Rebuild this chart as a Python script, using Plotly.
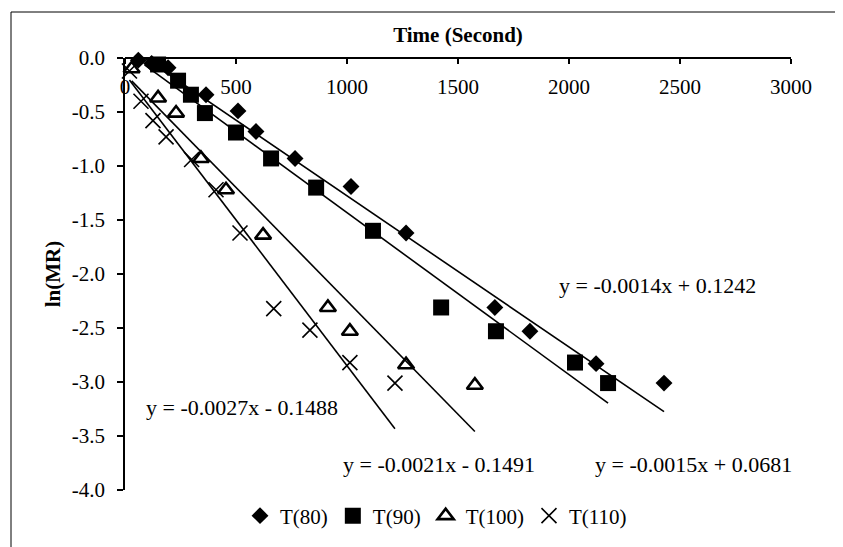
import plotly.graph_objects as go

# ---------------- data ----------------
t80_x = [60, 120, 194, 365, 509, 590, 766, 1018, 1266, 1666, 1824, 2122, 2428]
t80_y = [-0.02, -0.05, -0.09, -0.34, -0.49, -0.68, -0.93, -1.19, -1.62, -2.31, -2.53, -2.83, -3.01]

t90_x = [88, 149, 239, 297, 360, 500, 658, 861, 1117, 1424, 1671, 2027, 2176]
t90_y = [0.03, -0.06, -0.21, -0.34, -0.51, -0.69, -0.93, -1.20, -1.60, -2.31, -2.53, -2.82, -3.01]

t100_x = [30, 149, 230, 342, 455, 622, 914, 1013, 1266, 1576]
t100_y = [-0.10, -0.37, -0.51, -0.93, -1.22, -1.64, -2.31, -2.53, -2.84, -3.03]

t110_x = [20, 72, 126, 185, 300, 410, 518, 670, 833, 1013, 1216]
t110_y = [-0.12, -0.40, -0.58, -0.73, -0.94, -1.22, -1.62, -2.32, -2.52, -2.82, -3.01]

series_names = ["T(80)", "T(90)", "T(100)", "T(110)"]
slopes = [-0.0014, -0.0015, -0.0021, -0.0027]
intercepts = [0.1242, 0.0681, -0.1491, -0.1488]
eq_text = ["y = -0.0014x + 0.1242", "y = -0.0015x + 0.0681",
           "y = -0.0021x - 0.1491", "y = -0.0027x - 0.1488"]
eq_x = [2400, 2560, 1415, 525]
eq_y = [-2.11, -3.76, -3.76, -3.24]

x_ticks = [0, 500, 1000, 1500, 2000, 2500, 3000]
y_ticks = [0.0, -0.5, -1.0, -1.5, -2.0, -2.5, -3.0, -3.5, -4.0]
y_ticktext = ["0.0", "-0.5", "-1.0", "-1.5", "-2.0", "-2.5", "-3.0", "-3.5", "-4.0"]

# ---------------- figure ----------------
FONT = "Liberation Serif, Times New Roman, serif"
fig = go.Figure()

xs = [t80_x, t90_x, t100_x, t110_x]
ys = [t80_y, t90_y, t100_y, t110_y]

# trendlines (clipped to plot area)
for xv, m, b in zip(xs, slopes, intercepts):
    x0, x1 = min(xv), max(xv)
    fig.add_trace(go.Scatter(x=[x0, x1], y=[m * x0 + b, m * x1 + b], mode="lines",
                             line=dict(color="black", width=1.6), showlegend=False,
                             hoverinfo="skip"))

markers = [
    dict(symbol="diamond", size=13, color="black"),
    dict(symbol="square", size=16, color="black"),
    dict(symbol="triangle-up-open", size=14, color="black", line=dict(color="black", width=2.6)),
    dict(symbol="x-thin-open", size=15, color="black", line=dict(color="black", width=1.6)),
]
for xv, yv, name, mk in zip(xs, ys, series_names, markers):
    fig.add_trace(go.Scatter(x=xv, y=yv, mode="markers", name=name, marker=mk,
                             cliponaxis=False))

for t, x, y in zip(eq_text, eq_x, eq_y):
    fig.add_annotation(x=x, y=y, text=t, showarrow=False, xref="x", yref="y",
                       font=dict(family=FONT, size=22, color="black"))

L, R, T, B = 117, 60, 50, 65
W, H = 843, 547
pw, ph = W - L - R, H - T - B
fig.add_shape(type="rect", xref="paper", yref="paper",
              x0=(3 - L) / pw, x1=(W - 3 - L) / pw,
              y0=(H - B - 544) / ph, y1=(H - B - 4) / ph,
              line=dict(color="black", width=1))

fig.update_layout(
    width=W, height=H,
    margin=dict(l=L, r=R, t=T, b=B),
    paper_bgcolor="white", plot_bgcolor="white",
    font=dict(family=FONT, size=21, color="black"),
    title=dict(text="<b>Time (Second)</b>", font=dict(family=FONT, size=21),
               x=(L + pw / 2) / W, xanchor="center", y=1 - 27 / H, yanchor="middle"),
    legend=dict(orientation="h", x=(428 - L) / pw, xanchor="center",
                y=(H - B - 508) / ph, yanchor="middle", font=dict(family=FONT, size=21),
                bgcolor="rgba(0,0,0,0)"),
    xaxis=dict(range=[0, 3000], anchor="free", position=1, side="bottom",
               tickvals=x_ticks, ticks="outside", ticklen=5,
               tickwidth=1.5, tickcolor="black", ticklabelstandoff=5,
               showline=True, linecolor="black", linewidth=1.6,
               showgrid=False, zeroline=False),
    yaxis=dict(range=[-4, 0], tickvals=y_ticks, ticktext=y_ticktext, ticks="outside",
               ticklen=6, tickwidth=1.5, tickcolor="black", ticklabelstandoff=8,
               showline=True, linecolor="black", linewidth=1.6, showgrid=False,
               zeroline=False,
               title=dict(text="<b>ln(MR)</b>", font=dict(family=FONT, size=21),
                          standoff=5)),
)

fig.write_html("out.html")
